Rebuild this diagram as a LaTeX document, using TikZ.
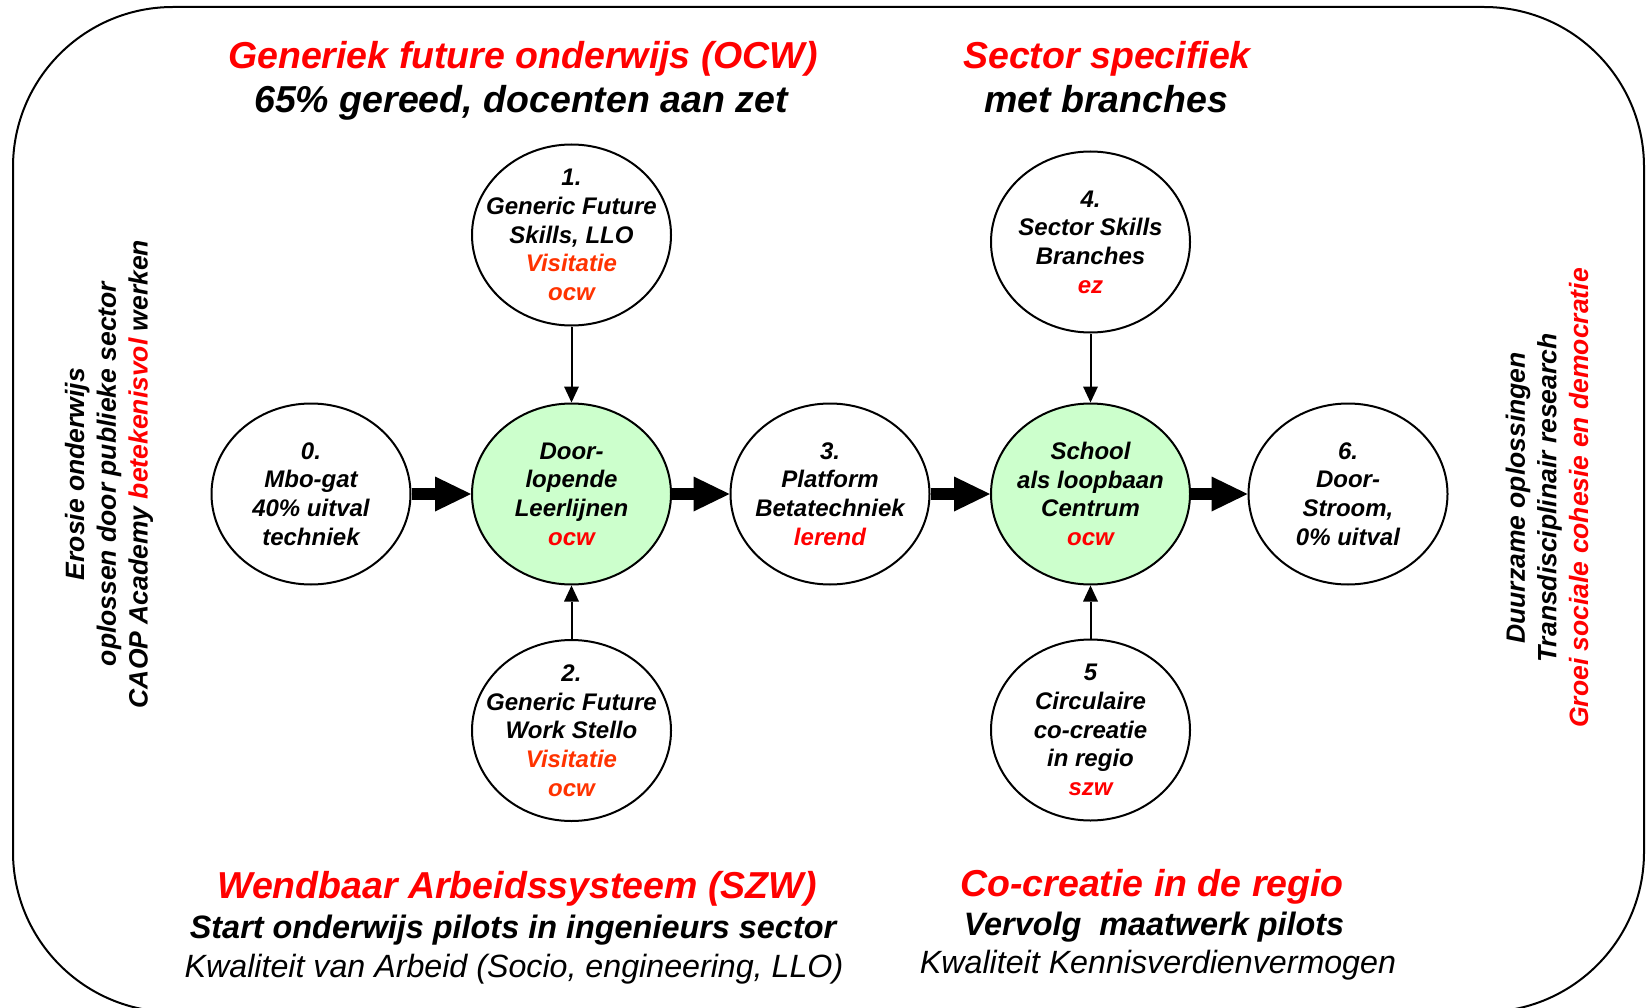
\documentclass[tikz,border=0pt]{standalone}
\usepackage{fontspec}
\setmainfont{Liberation Sans}
\usetikzlibrary{shapes.geometric,arrows.meta}
\definecolor{hred}{HTML}{FF0000}
\definecolor{ored}{HTML}{FF3300}
\definecolor{lgreen}{HTML}{CCFFCC}
\tikzset{
  circ/.style={ellipse, draw=black, line width=2pt, fill=white, minimum width=199pt, minimum height=181pt, inner sep=0pt},
  green/.style={fill=lgreen},
  ctext/.style={align=center, inner sep=0pt, font=\fontsize{24}{28.7}\selectfont\bfseries\itshape},
  head/.style={anchor=base, inner sep=0pt, font=\fontsize{37.5}{45}\selectfont\bfseries\itshape},
  sub/.style={anchor=base, inner sep=0pt, font=\fontsize{32.4}{39}\selectfont\bfseries\itshape},
  subit/.style={anchor=base, inner sep=0pt, font=\fontsize{32.2}{39}\selectfont\itshape},
  side/.style={rotate=90, align=center, inner sep=0pt, font=\fontsize{26.5}{31.7}\selectfont\bfseries\itshape},
  fat/.style={line width=12pt, -{Triangle[length=36pt,width=35pt,line width=0pt]}},
  thin/.style={line width=2pt, -{Triangle[length=16pt,width=15pt,line width=0pt]}}
}
\begin{document}
\begin{tikzpicture}[x=1pt,y=-1pt]
\path[use as bounding box, clip] (0,0) rectangle (1648,1008);
\fill[white] (0,0) rectangle (1648,1008);
% frame
\draw[line width=2pt, rounded corners=160pt] (13,7) rectangle (1644,1012);

% circles
\node[circ] (n0) at (311,494) {};
\node[circ,green] (nD) at (571.5,494) {};
\node[circ] (n3) at (830,494) {};
\node[circ,green] (nS) at (1090.5,494) {};
\node[circ] (n6) at (1348,494) {};
\node[circ] (n1) at (571.5,235) {};
\node[circ] (n2) at (571.5,730.5) {};
\node[circ] (n4) at (1090.5,242) {};
\node[circ] (n5) at (1090.5,730) {};

% circle texts
\node[ctext] (t0) at (n0) {0.\\Mbo-gat\\40\% uitval\\techniek};
\node[ctext] (tD) at (nD) {Door-\\lopende\\Leerlijnen\\\textcolor{hred}{ocw}};
\node[ctext] (t3) at (n3) {3.\\Platform\\Betatechniek\\\textcolor{hred}{lerend}};
\node[ctext] (tS) at (nS) {School\\als loopbaan\\Centrum\\\textcolor{hred}{ocw}};
\node[ctext] (t6) at (n6) {6.\\Door-\\Stroom,\\0\% uitval};
\node[ctext] (t1) at (n1) {1.\\Generic Future\\Skills, LLO\\\textcolor{ored}{Visitatie}\\\textcolor{ored}{ocw}};
\node[ctext] (t2) at (n2) {2.\\Generic Future\\Work Stello\\\textcolor{ored}{Visitatie}\\\textcolor{ored}{ocw}};
\node[ctext] (t4) at (n4) {4.\\Sector Skills\\Branches\\\textcolor{hred}{ez}};
\node[ctext] (t5) at (n5) {5\\Circulaire\\co-creatie\\in regio\\\textcolor{hred}{szw}};

% fat arrows
\draw[fat] (n0) -- (nD);
\draw[fat] (nD) -- (n3);
\draw[fat] (n3) -- (nS);
\draw[fat] (nS) -- (n6);
% thin arrows
\draw[thin] (n1) -- (nD);
\draw[thin] (n2) -- (nD);
\draw[thin] (n4) -- (nS);
\draw[thin] (n5) -- (nS);

% headings
\node[head, text=hred] (h1) at (523,69) {Generiek future onderwijs (OCW)};
\node[head] (h1b) at (521,113) {65\% gereed, docenten aan zet};
\node[head, text=hred] (h2) at (1107,69) {Sector specifiek};
\node[head] (h2b) at (1106,113) {met branches};
\node[head, text=hred] (h3) at (517,898) {Wendbaar Arbeidssysteem (SZW)};
\node[sub] (h3b) at (513,938) {Start onderwijs pilots in ingenieurs sector};
\node[subit] (h3c) at (514,977) {Kwaliteit van Arbeid (Socio, engineering, LLO)};
\node[head, text=hred] (h4) at (1152,896) {Co-creatie in de regio};
\node[sub] (h4b) at (1154,935) {Vervolg\ \ maatwerk pilots};
\node[subit] (h4c) at (1158,973) {Kwaliteit Kennisverdienvermogen};

% side texts
\node[side] (sl) at (109,474) {Erosie onderwijs\\oplossen door publieke sector\\CAOP Academy \textcolor{hred}{betekenisvol} werken};
\node[side] (sr) at (1547,498) {Duurzame oplossingen\\Transdisciplinair research\\\textcolor{hred}{Groei sociale cohesie en democratie}};
\end{tikzpicture}
\end{document}
